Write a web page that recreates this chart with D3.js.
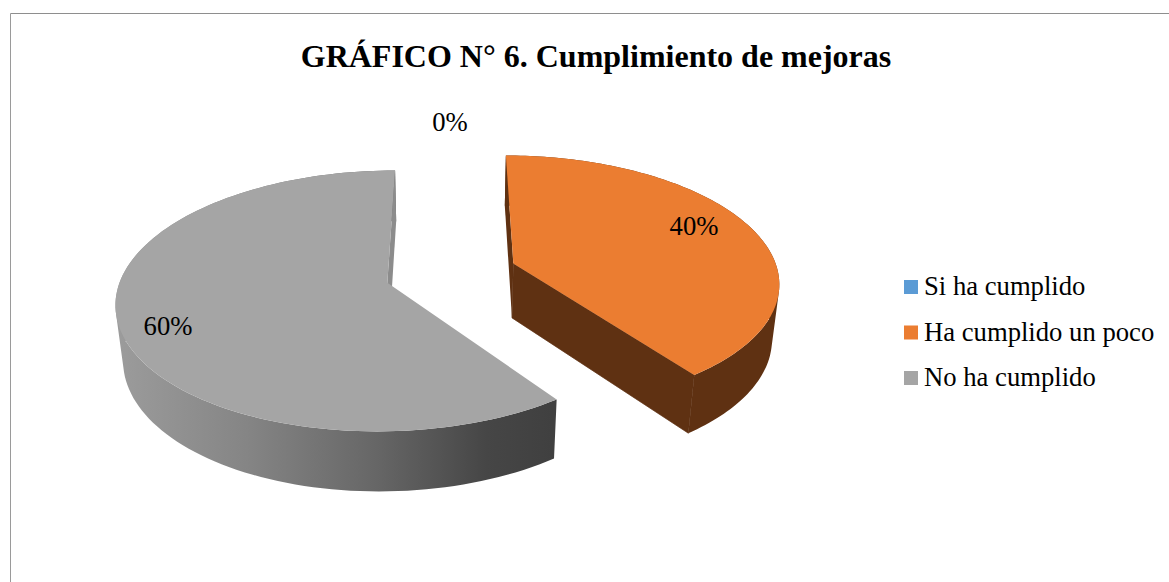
<!DOCTYPE html>
<html><head><meta charset="utf-8">
<script src="https://cdn.jsdelivr.net/npm/d3@7/dist/d3.min.js"></script>
<style>html,body{margin:0;padding:0;background:#fff}svg{display:block}text{font-family:"Liberation Serif",serif;fill:#000}</style>
</head><body><svg id="c" width="1169" height="582"></svg>
<script>
const chartTitle = "GRÁFICO N° 6. Cumplimiento de mejoras";
const categories = ["Si ha cumplido", "Ha cumplido un poco", "No ha cumplido"];
const values = [0, 40, 60];
const colors = ["#5b9bd5", "#eb7d31", "#a5a5a5"];
const wallColors = ["#37618a", "#5f3112", "#8c8c8c"];
const labelPos = [[450,123],[694,227],[168,327]];

const svg = d3.select("#c");
const S=265, e=28.2*Math.PI/180, D=6.4, k=0.25, cx=451, cy=273, H=0.24, kz=0.6;
const se=Math.sin(e), ce=Math.cos(e);
function project(x,y,z){
  const Yc=y*se+z*ce, Zc=-y*ce+z*kz, f=D/(D-Zc);
  return [cx+S*f*x, cy-S*f*Yc];
}
const arcs=d3.pie().sort(null).value(d=>d)(values);
const defs=svg.append("defs");
const grad=defs.append("linearGradient").attr("id","gw").attr("gradientUnits","userSpaceOnUse")
  .attr("x1",115).attr("x2",552).attr("y1",0).attr("y2",0);
[[0,"#9c9c9c"],[0.3,"#858585"],[0.6,"#666666"],[0.85,"#464646"],[1,"#404040"]].forEach(s=>grad.append("stop").attr("offset",s[0]).attr("stop-color",s[1]));

svg.append("line").attr("x1",10.5).attr("x2",1169).attr("y1",13.5).attr("y2",13.5).attr("stroke","#8e8e8e");
svg.append("line").attr("x1",10.5).attr("x2",10.5).attr("y1",13.5).attr("y2",582).attr("stroke","#9a9a9a");

const line=d3.line();
arcs.forEach((a,i)=>{
  if(a.endAngle-a.startAngle<1e-6) return;
  const mid=(a.startAngle+a.endAngle)/2;
  const ox=k*Math.sin(mid), oy=k*Math.cos(mid);
  const P=(r,t,z)=>project(ox+r*Math.sin(t),oy+r*Math.cos(t),z);
  const ts=d3.range(0,121).map(j=>a.startAngle+(a.endAngle-a.startAngle)*j/120);
  const g=svg.append("g");
  const top=ts.map(t=>P(1,t,0)), bot=ts.map(t=>P(1,t,-H));
  const A=P(0,0,0), A2=P(0,0,-H);
  const wall=i===2?"url(#gw)":wallColors[i];
  // radial face at the start of the slice
  g.append("path").attr("d",line([top[0],A,A2,bot[0]])+"Z").attr("fill",i===2?"none":wallColors[i]);
  // rim: quads of one orientation in a single path, so the silhouette keeps its tangent edge
  const rimD=d3.range(120).map(j=>{
    const q=[top[j],top[j+1],bot[j+1],bot[j]];
    if(d3.polygonArea(q)<0) q.reverse();
    return line(q)+"Z";
  }).join("");
  g.append("path").attr("d",rimD).attr("fill",wall).attr("fill-rule","nonzero");
  // radial face at the end of the slice, with a hairline to close the seam against the rim
  g.append("path").attr("d",line([top[120],A,A2,bot[120]])+"Z").attr("fill",wallColors[i])
    .attr("stroke",i===1?wallColors[i]:"none").attr("stroke-width",0.7);
  // top face
  g.append("path").attr("d",line([A].concat(top))+"Z").attr("fill",colors[i]);
});

svg.append("text").attr("x",596).attr("y",67).attr("text-anchor","middle")
  .attr("font-size",32).attr("font-weight","bold").text(chartTitle);
values.forEach((v,i)=>{
  svg.append("text").attr("x",labelPos[i][0]).attr("y",labelPos[i][1]+8).attr("text-anchor","middle")
    .attr("font-size",26.67).text(d3.format(".0%")(v/100));
});
const legY=d3.scalePoint().domain(categories).range([280,371]);
categories.forEach((c,i)=>{
  svg.append("rect").attr("x",904).attr("y",legY(c)).attr("width",14).attr("height",14).attr("fill",colors[i]);
  svg.append("text").attr("x",924).attr("y",legY(c)+15).attr("font-size",26.67).text(c);
});
</script></body></html>
